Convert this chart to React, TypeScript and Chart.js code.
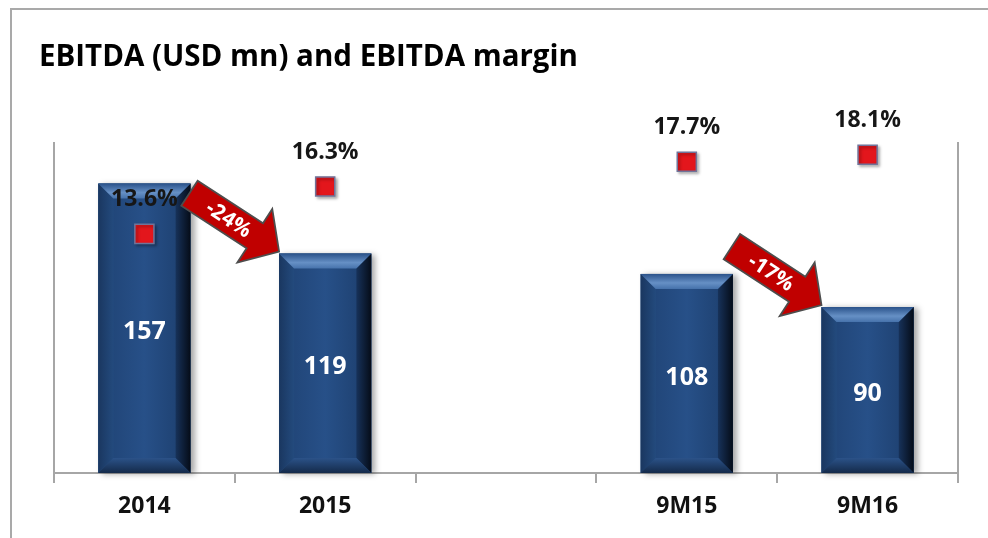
import React, { useEffect, useRef } from "react";
import { Chart, registerables } from "chart.js";

Chart.register(...registerables);

const categories = ["2014", "2015", "", "9M15", "9M16"];
const ebitda = [157, 119, null, 108, 90];
const margin = [13.6, 16.3, null, 17.7, 18.1];
const arrowPairs = [
  [0, 1],
  [3, 4],
];
const arrowLabels = ["-24%", "-17%"];
const titleText = "EBITDA (USD mn) and EBITDA margin";

const FONT = "'Open Sans', 'DejaVu Sans', sans-serif";

const decorPlugin = {
  id: "decor",
  beforeDatasetDraw(chart: any, args: any) {
    if (args.index === 1) {
      const ctx = chart.ctx;
      ctx.save();
      ctx.shadowColor = "rgba(0,0,0,0.35)";
      ctx.shadowBlur = 3;
      ctx.shadowOffsetX = 2;
      ctx.shadowOffsetY = 2;
    }
    if (args.index === 0) {
      const ctx = chart.ctx;
      const meta = chart.getDatasetMeta(0);
      ctx.save();
      meta.data.forEach((el: any, i: number) => {
        if (ebitda[i] == null) return;
        const p = el.getProps(["x", "y", "base", "width"], true);
        ctx.shadowColor = "rgba(0,0,0,0.35)";
        ctx.shadowBlur = 6;
        ctx.shadowOffsetX = 4;
        ctx.shadowOffsetY = 1;
        ctx.fillStyle = "#234a7d";
        ctx.fillRect(p.x - p.width / 2, p.y, p.width, p.base - p.y);
      });
      ctx.restore();
    }
  },
  afterDatasetDraw(chart: any, args: any) {
    const ctx = chart.ctx;
    if (args.index === 1) {
      ctx.restore();
      return;
    }
    if (args.index !== 0) return;
    const meta = chart.getDatasetMeta(0);
    meta.data.forEach((el: any, i: number) => {
      if (ebitda[i] == null) return;
      const p = el.getProps(["x", "y", "base", "width"], true);
      const l = p.x - p.width / 2;
      const r = p.x + p.width / 2;
      const t = p.y;
      const bt = p.base;
      const b = 15;
      const poly = (pts: number[][], fill: any) => {
        ctx.beginPath();
        ctx.moveTo(pts[0][0], pts[0][1]);
        for (let k = 1; k < pts.length; k++) ctx.lineTo(pts[k][0], pts[k][1]);
        ctx.closePath();
        ctx.fillStyle = fill;
        ctx.fill();
      };
      const gf = ctx.createLinearGradient(l, 0, r, 0);
      gf.addColorStop(0, "#1f4273");
      gf.addColorStop(0.5, "#275088");
      gf.addColorStop(1, "#1c3d6b");
      poly([[l + b, t + b], [r - b, t + b], [r - b, bt - b], [l + b, bt - b]], gf);
      const gl = ctx.createLinearGradient(l, 0, l + b, 0);
      gl.addColorStop(0, "#1a3760");
      gl.addColorStop(1, "#234a7d");
      poly([[l, t], [l + b, t + b], [l + b, bt - b], [l, bt]], gl);
      const gr = ctx.createLinearGradient(r - b, 0, r, 0);
      gr.addColorStop(0, "#17325a");
      gr.addColorStop(1, "#050c18");
      poly([[r, t], [r, bt], [r - b, bt - b], [r - b, t + b]], gr);
      const gb = ctx.createLinearGradient(0, bt - b, 0, bt);
      gb.addColorStop(0, "#2b5288");
      gb.addColorStop(1, "#142a4a");
      poly([[l, bt], [r, bt], [r - b, bt - b], [l + b, bt - b]], gb);
      const gt = ctx.createLinearGradient(0, t, 0, t + b);
      gt.addColorStop(0, "#2a528a");
      gt.addColorStop(0.6, "#6690c5");
      gt.addColorStop(1, "#4672ab");
      poly([[l, t], [r, t], [r - b, t + b], [l + b, t + b]], gt);
    });
  },
  afterDatasetsDraw(chart: any) {
    const ctx = chart.ctx;
    ctx.save();
    const bars = chart.getDatasetMeta(0).data;
    ctx.textAlign = "center";
    ctx.textBaseline = "middle";
    ctx.font = `bold 25px ${FONT}`;
    ctx.fillStyle = "#ffffff";
    bars.forEach((el: any, i: number) => {
      if (ebitda[i] == null) return;
      const p = el.getProps(["x", "y", "base"], true);
      ctx.fillText(String(ebitda[i]), p.x, (p.y + p.base) / 2 + 4);
    });
    const pts = chart.getDatasetMeta(1).data;
    ctx.font = `bold 23px ${FONT}`;
    ctx.fillStyle = "#161616";
    pts.forEach((el: any, i: number) => {
      if (margin[i] == null) return;
      const p = el.getProps(["x", "y"], true);
      ctx.fillText(margin[i]!.toFixed(1) + "%", p.x, p.y - 34);
    });
    const ux = 0.838;
    const uy = 0.546;
    const ang = Math.atan2(uy, ux);
    arrowPairs.forEach((pair, k) => {
      const target = bars[pair[1]].getProps(["x", "y", "width"], true);
      const tipX = target.x - target.width / 2;
      const tipY = target.y - 2;
      ctx.save();
      ctx.translate(tipX, tipY);
      ctx.rotate(ang);
      ctx.beginPath();
      ctx.moveTo(0, 0);
      ctx.lineTo(-29, -32);
      ctx.lineTo(-29, -15);
      ctx.lineTo(-107, -15);
      ctx.lineTo(-107, 15);
      ctx.lineTo(-29, 15);
      ctx.lineTo(-29, 32);
      ctx.closePath();
      ctx.fillStyle = "#c00000";
      ctx.fill();
      ctx.lineWidth = 1.8;
      ctx.strokeStyle = "#4d4d4d";
      ctx.lineJoin = "miter";
      ctx.stroke();
      ctx.fillStyle = "#ffffff";
      ctx.font = `bold 21px ${FONT}`;
      ctx.textAlign = "center";
      ctx.textBaseline = "middle";
      ctx.fillText(arrowLabels[k], -60, 1);
      ctx.restore();
    });
    ctx.restore();
  },
};

export default function App() {
  const ref = useRef<HTMLCanvasElement | null>(null);
  useEffect(() => {
    if (!ref.current) return;
    const chart = new Chart(ref.current, {
      type: "bar",
      data: {
        labels: categories,
        datasets: [
          {
            type: "bar",
            label: "EBITDA",
            data: ebitda,
            backgroundColor: "#234a7d",
            barPercentage: 0.51,
            categoryPercentage: 1,
            yAxisID: "y",
            order: 1,
          },
          {
            type: "line",
            label: "EBITDA margin",
            data: margin,
            yAxisID: "y1",
            showLine: false,
            pointStyle: "rect",
            pointRadius: 13.5,
            pointBackgroundColor: "#e3161c",
            pointBorderColor: "#70749a",
            pointBorderWidth: 1.5,
            order: 0,
          },
        ],
      },
      options: {
        animation: false,
        responsive: false,
        maintainAspectRatio: false,
        layout: { padding: { left: 39, right: 30, top: 0, bottom: 0 } },
        plugins: {
          legend: { display: false },
          tooltip: { enabled: false },
          title: {
            display: true,
            text: titleText,
            align: "start",
            color: "#000000",
            font: { family: FONT, size: 29.5, weight: "bold", lineHeight: 1.2 },
            padding: { top: 40, bottom: 67.6 },
          },
        },
        scales: {
          x: {
            offset: true,
            grid: {
              offset: true,
              drawOnChartArea: false,
              drawTicks: true,
              tickLength: 10,
              color: "#a6a6a6",
              lineWidth: 2,
            },
            border: { display: true, color: "#a6a6a6", width: 2 },
            ticks: {
              color: "#111111",
              font: { family: FONT, size: 23, weight: "bold" },
              padding: 10,
              maxRotation: 0,
              autoSkip: false,
            },
            afterFit: (s: any) => {
              s.height = 65;
            },
          },
          y: {
            position: "left",
            min: 0,
            max: 179,
            ticks: { display: false },
            grid: { display: false },
            border: { display: true, color: "#a6a6a6", width: 2 },
            afterFit: (s: any) => {
              s.width = 15;
            },
          },
          y1: {
            position: "right",
            min: 0,
            max: 18.77,
            ticks: { display: false },
            grid: { display: false },
            border: { display: true, color: "#a6a6a6", width: 2 },
            afterFit: (s: any) => {
              s.width = 0;
            },
          },
        },
      },
      plugins: [decorPlugin],
    } as any);
    return () => chart.destroy();
  }, []);
  return (
    <div
      style={{
        position: "fixed",
        left: 0,
        top: 0,
        width: 988,
        height: 538,
        background: "#ffffff",
        overflow: "hidden",
      }}
    >
      <canvas ref={ref} width={988} height={538} style={{ position: "absolute", left: 0, top: 0 }} />
      <div
        style={{
          position: "absolute",
          left: 10,
          top: 8,
          width: 1100,
          height: 700,
          borderTop: "2px solid #a9a9a9",
          borderLeft: "2px solid #a9a9a9",
          pointerEvents: "none",
        }}
      />
    </div>
  );
}
